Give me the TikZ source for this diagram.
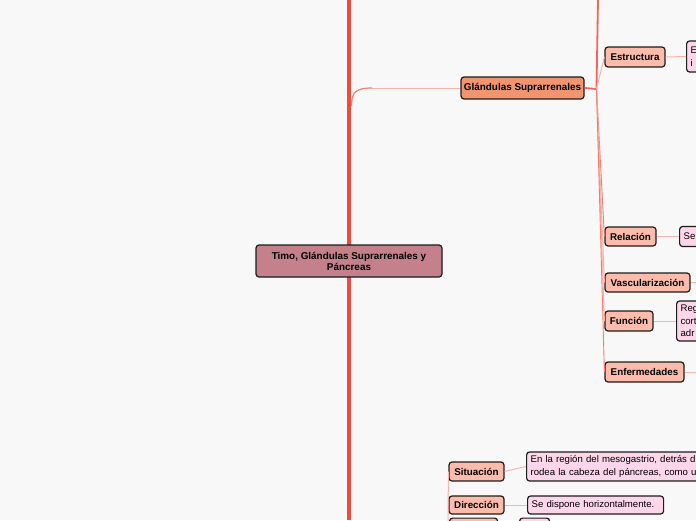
\documentclass[tikz,border=0pt]{standalone}
\usepackage{fontspec}
\setmainfont{Liberation Sans}
\definecolor{bgc}{HTML}{F8F8F8}
\definecolor{mainred}{HTML}{F04A3C}
\definecolor{centralfill}{HTML}{C4808B}
\definecolor{glandfill}{HTML}{F0956F}
\definecolor{childfill}{HTML}{FBBCAB}
\definecolor{leaffill}{HTML}{FDD6EA}
\definecolor{lightcon}{HTML}{F8B3AA}
\definecolor{midcon}{HTML}{F47C70}
\definecolor{borderc}{HTML}{1C1C1C}
\tikzset{
  box/.style={draw=borderc, line width=1.2pt, rounded corners=3pt, inner sep=1pt},
  centralbox/.style={box, fill=centralfill, align=center, font=\bfseries\fontsize{9.9}{11}\selectfont},
  glandbox/.style={box, fill=glandfill, font=\bfseries\fontsize{9.9}{10}\selectfont},
  childbox/.style={box, fill=childfill, font=\bfseries\fontsize{9.8}{10}\selectfont},
  leafbox/.style={box, fill=leaffill, anchor=west, align=left, font=\fontsize{9.6}{12.5}\selectfont, inner xsep=4pt},
  mainline/.style={draw=mainred, line width=4.5pt},
  redcon/.style={draw=mainred!85!white, line width=1.8pt},
  lightline/.style={draw=lightcon, line width=1pt},
}
\begin{document}
\begin{tikzpicture}[x=1pt,y=-1pt]
\useasboundingbox (0,0) rectangle (696,520);
\fill[bgc] (0,0) rectangle (696,520);
\clip (0,0) rectangle (696,520);

% coordinates
\coordinate (top) at (349,0);
\coordinate (bottom) at (349,520);
\coordinate (hub) at (596.5,89);
\coordinate (uptop) at (598,0);
\coordinate (vascend) at (700,282.5);
\coordinate (enfend) at (700,372);
\coordinate (pancend) at (448,525);

% main thick line
\draw[mainline] (top) -- (bottom);

% nodes
\node[centralbox, minimum width=186pt, minimum height=32pt] (timo) at (349,261) {Timo, Glándulas Suprarrenales y\\Páncreas};
\node[glandbox, minimum width=123pt, minimum height=22pt] (gland) at (522.5,88) {Glándulas Suprarrenales};

\node[childbox, minimum width=60pt, minimum height=20pt] (estr) at (635,57) {Estructura};
\node[childbox, minimum width=51pt, minimum height=19pt] (rel) at (630.5,236.5) {Relación};
\node[childbox, minimum width=85pt, minimum height=19pt] (vasc) at (647.5,282.5) {Vascularización};
\node[childbox, minimum width=48pt, minimum height=20pt] (func) at (629,321) {Función};
\node[childbox, minimum width=79pt, minimum height=20pt] (enf) at (644.5,372) {Enfermedades};

\node[leafbox, text width=60pt, minimum height=31pt] (estrleaf) at (686,56.5) {E\\i};
\node[leafbox, text width=60pt, minimum height=20pt] (relleaf) at (679,236.5) {Se};
\node[leafbox, text width=60pt, minimum height=40pt] (funcleaf) at (676,321) {Reg\\cort\\adr};

\node[childbox, minimum width=55pt, minimum height=19pt] (sit) at (476.5,471.5) {Situación};
\node[childbox, minimum width=55pt, minimum height=18pt] (dir) at (476.5,505) {Dirección};
\node[leafbox, text width=200pt, minimum height=29pt] (sitleaf) at (526,466.5) {En la región del mesogastrio, detrás d\\rodea la cabeza del páncreas, como u};
\node[leafbox, text width=128pt, minimum height=18pt, font=\fontsize{9.6}{10}\selectfont] (dirleaf) at (527,505) {Se dispone horizontalmente.};

\node[box, fill=childfill, minimum width=48pt, minimum height=20pt, anchor=north west] (nextchild) at (449,517.5) {};
\node[box, fill=leaffill, minimum width=30pt, minimum height=20pt, anchor=north west] (nextleaf) at (519,517.5) {};

% connectors
\draw[line width=1.2pt, draw=midcon] (351.5,106) .. controls (351.5,92) and (356,88) .. (372,88);
\draw[lightline] (372,88) -- (gland.west);
\draw[redcon] (gland.east) -- (hub);
\draw[redcon] (hub) -- (uptop);
\draw[lightline] (hub) -- (estr.west);
\draw[draw=midcon, line width=0.9pt] (hub) -- (rel.west);
\draw[lightline] (hub) -- (vasc.west);
\draw[lightline] (hub) -- (func.west);
\draw[draw=midcon, line width=0.9pt] (hub) -- (enf.west);

\draw[lightline] (estr.east) -- (estrleaf.west);
\draw[lightline] (rel.east) -- (relleaf.west);
\draw[lightline] (vasc.east) -- (vascend);
\draw[lightline] (func.east) -- (funcleaf.west);
\draw[lightline] (enf.east) -- (enfend);

\draw[lightline] (sit.west) -- (pancend);
\draw[lightline] (sit.east) -- (sitleaf.west);
\draw[lightline] (dir.east) -- (dirleaf.west);
\end{tikzpicture}
\end{document}
